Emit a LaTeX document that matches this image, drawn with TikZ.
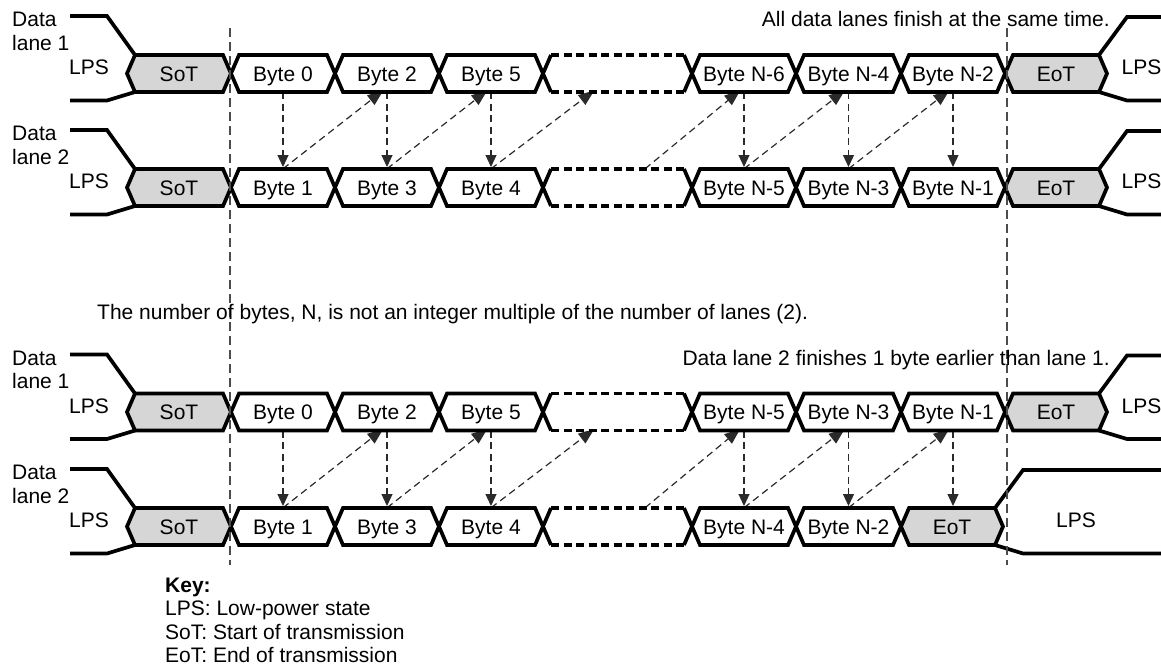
\documentclass[tikz,border=0pt]{standalone}
\usepackage{fontspec}
\setmainfont{Liberation Sans}
\usetikzlibrary{arrows.meta}
\definecolor{sotfill}{HTML}{D6D6D6}
\definecolor{arrowgray}{HTML}{2A2A2A}
\pgfdeclarelayer{bg}
\pgfsetlayers{bg,main}

% one byte slot on a lane: [fill]{left x}{right x}{lane y}{name}{label}
\newcommand{\byteslot}[6][fill=white]{%
  \draw[wave,#1] (#2,#4) -- (#2+8,#4-18.5) -- (#3-8,#4-18.5) -- (#3,#4)
    -- (#3-8,#4+18.5) -- (#2+8,#4+18.5) -- cycle;
  \node[slotlbl] (#5) at ({(#2+#3)/2},#4) {#6};}

% the bytes left out: {left x}{right x}{lane y}{name}
\newcommand{\gapslot}[4]{%
  \fill[white] (#1,#3) -- (#1+8,#3-18.5) -- (#2-8,#3-18.5) -- (#2,#3)
    -- (#2-8,#3+18.5) -- (#1+8,#3+18.5) -- cycle;
  \draw[wave] (#1+8,#3-18.5) -- (#1,#3) -- (#1+8,#3+18.5);
  \draw[wave] (#2-8,#3-18.5) -- (#2,#3) -- (#2-8,#3+18.5);
  \draw[wave,gapdash] (#1+8,#3-18.5) -- (#2-8,#3-18.5);
  \draw[wave,gapdash] (#1+8,#3+18.5) -- (#2-8,#3+18.5);
  \node[slotlbl] (#4) at ({(#1+#2)/2},#3) {};}

% lane leaving LPS: {lane y}{lane no.}{name}
\newcommand{\lanein}[3]{%
  \draw[wave] (70,#1-57.5) -- (107,#1-57.5) -- (135,#1-18.5);
  \draw[wave] (70,#1+27) -- (107,#1+27) -- (135,#1+18.5);
  \node[txt,anchor=base west] (#3d) at (12,#1-47) {Data};
  \node[txt,anchor=base west] (#3l) at (12,#1-23.5) {lane #2};
  \node[txt,anchor=base] (#3p) at (89,#1+1) {LPS};}

% lane going back to LPS: {corner x}{lane y}{LPS x}{name}
\newcommand{\laneout}[4]{%
  \draw[wave] (#1,#2-18.5) -- (#1+28,#2-56.5) -- (1161,#2-56.5);
  \draw[wave] (#1,#2+18.5) -- (#1+28,#2+27) -- (1161,#2+27);
  \node[txt,anchor=base] (#4) at (#3,#2+1) {LPS};}

\begin{document}
\begin{tikzpicture}[x=1pt, y=-1pt,
  wave/.style={line width=3.7pt, line join=miter, miter limit=2},
  gapdash/.style={dash pattern=on 8pt off 4.5pt},
  txt/.style={inner sep=0pt, font=\fontsize{21}{23.5}\selectfont},
  slotlbl/.style={txt, minimum height=37pt, text height=15pt, text depth=0pt},
  varrow/.style={arrowgray, line width=1.2pt, dash pattern=on 7pt off 4.5pt,
    -{Triangle[length=12pt,width=11pt]}, shorten >=1.8pt},
  darrow/.style={arrowgray, line width=1.2pt, dash pattern=on 7pt off 4.5pt,
    -{Triangle[length=16pt,width=12pt]}, shorten >=-3pt},
  guide/.style={black!70, line width=1.3pt, dash pattern=on 9pt off 5pt}]

  \useasboundingbox (0,0) rectangle (1161,670);

  % all lanes finish together
  \lanein{73.5}{1}{inA}
  \byteslot[fill=sotfill]{127}{231}{73.5}{As}{SoT}
  \byteslot{231}{335}{73.5}{A0}{Byte 0}
  \byteslot{335}{439}{73.5}{A2}{Byte 2}
  \byteslot{439}{543}{73.5}{A5}{Byte 5}
  \gapslot{543}{692}{73.5}{Ag}
  \byteslot{692}{796}{73.5}{An6}{Byte N-6}
  \byteslot{796}{901}{73.5}{An4}{Byte N-4}
  \byteslot{901}{1005}{73.5}{An2}{Byte N-2}
  \byteslot[fill=sotfill]{1005}{1107}{73.5}{Ae}{EoT}
  \laneout{1099}{73.5}{1141.5}{outA}

  \lanein{187.5}{2}{inB}
  \byteslot[fill=sotfill]{127}{231}{187.5}{Bs}{SoT}
  \byteslot{231}{335}{187.5}{B1}{Byte 1}
  \byteslot{335}{439}{187.5}{B3}{Byte 3}
  \byteslot{439}{543}{187.5}{B4}{Byte 4}
  \gapslot{543}{692}{187.5}{Bg}
  \byteslot{692}{796}{187.5}{Bn5}{Byte N-5}
  \byteslot{796}{901}{187.5}{Bn3}{Byte N-3}
  \byteslot{901}{1005}{187.5}{Bn1}{Byte N-1}
  \byteslot[fill=sotfill]{1005}{1107}{187.5}{Be}{EoT}
  \laneout{1099}{187.5}{1141.5}{outB}

  % lane 2 finishes one byte earlier
  \lanein{412}{1}{inC}
  \byteslot[fill=sotfill]{127}{231}{412}{Cs}{SoT}
  \byteslot{231}{335}{412}{C0}{Byte 0}
  \byteslot{335}{439}{412}{C2}{Byte 2}
  \byteslot{439}{543}{412}{C5}{Byte 5}
  \gapslot{543}{692}{412}{Cg}
  \byteslot{692}{796}{412}{Cn5}{Byte N-5}
  \byteslot{796}{901}{412}{Cn3}{Byte N-3}
  \byteslot{901}{1005}{412}{Cn1}{Byte N-1}
  \byteslot[fill=sotfill]{1005}{1107}{412}{Ce}{EoT}
  \laneout{1099}{412}{1141.5}{outC}

  \lanein{526.5}{2}{inD}
  \byteslot[fill=sotfill]{127}{231}{526.5}{Ds}{SoT}
  \byteslot{231}{335}{526.5}{D1}{Byte 1}
  \byteslot{335}{439}{526.5}{D3}{Byte 3}
  \byteslot{439}{543}{526.5}{D4}{Byte 4}
  \gapslot{543}{692}{526.5}{Dg}
  \byteslot{692}{796}{526.5}{Dn4}{Byte N-4}
  \byteslot{796}{901}{526.5}{Dn2}{Byte N-2}
  \byteslot[fill=sotfill]{901}{1003}{526.5}{De}{EoT}
  \laneout{995}{526.5}{1076}{outD}

  % byte order between the lanes
  \begin{pgfonlayer}{bg}
    \draw[varrow] (A0.south) -- (B1.north);
    \draw[varrow] (A2.south) -- (B3.north);
    \draw[varrow] (A5.south) -- (B4.north);
    \draw[varrow] (An6.south) -- (Bn5.north);
    \draw[varrow] (An4.south) -- (Bn3.north);
    \draw[varrow] (An2.south) -- (Bn1.north);
    \draw[darrow] (B1.north) -- ([xshift=-6pt]A2.south);
    \draw[darrow] (B3.north) -- ([xshift=-6pt]A5.south);
    \draw[darrow] (B4.north) -- ([xshift=-25.5pt]Ag.south);
    \draw[darrow] ([xshift=27.5pt]Bg.north) -- ([xshift=-6pt]An6.south);
    \draw[darrow] (Bn5.north) -- ([xshift=-6pt]An4.south);
    \draw[darrow] (Bn3.north) -- ([xshift=-6pt]An2.south);

    \draw[varrow] (C0.south) -- (D1.north);
    \draw[varrow] (C2.south) -- (D3.north);
    \draw[varrow] (C5.south) -- (D4.north);
    \draw[varrow] (Cn5.south) -- (Dn4.north);
    \draw[varrow] (Cn3.south) -- (Dn2.north);
    \draw[varrow] (Cn1.south) -- (Cn1.south |- De.north);
    \draw[darrow] (D1.north) -- ([xshift=-6pt]C2.south);
    \draw[darrow] (D3.north) -- ([xshift=-6pt]C5.south);
    \draw[darrow] (D4.north) -- ([xshift=-25.5pt]Cg.south);
    \draw[darrow] ([xshift=27.5pt]Dg.north) -- ([xshift=-6pt]Cn5.south);
    \draw[darrow] (Dn4.north) -- ([xshift=-6pt]Cn3.south);
    \draw[darrow] (Dn2.north) -- ([xshift=-6pt]Cn1.south);
  \end{pgfonlayer}

  \draw[guide] (230,28) -- (230,565);
  \draw[guide] (1007,28) -- (1007,565);

  \node[txt, anchor=base east] (sametime) at (1110,26.5) {All data lanes finish at the same time.};
  \node[txt, anchor=base west] (notmult) at (97,319) {The number of bytes, N, is not an integer multiple of the number of lanes (2).};
  \node[txt, anchor=base east] (earlier) at (1110,365) {Data lane 2 finishes 1 byte earlier than lane 1.};
  \node[txt, anchor=north west, align=left] (key) at (165,577.5)
    {\textbf{Key:}\\LPS: Low-power state\\SoT: Start of transmission\\EoT: End of transmission};
\end{tikzpicture}
\end{document}
